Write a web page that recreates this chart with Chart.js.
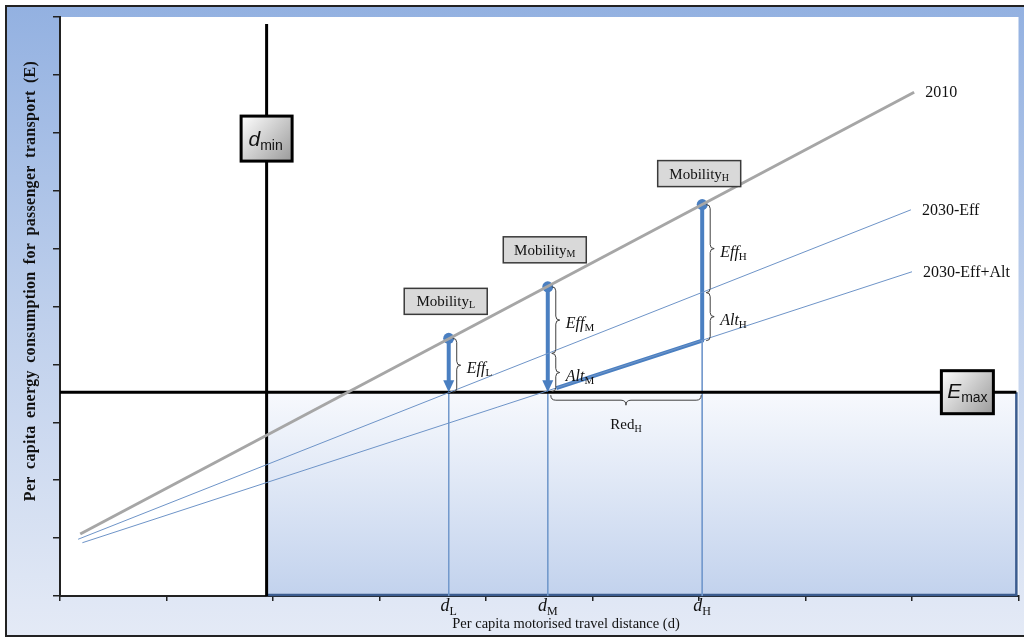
<!DOCTYPE html>
<html lang="en">
<head>
<meta charset="UTF-8">
<title>Mobility and passenger transport energy</title>
<script src="https://cdn.jsdelivr.net/npm/chart.js@4.4.1/dist/chart.umd.min.js"></script>
<style>
  body { margin: 0; background: #fff; }
</style>
</head>
<body>
<canvas id="chart" width="1024" height="637"></canvas>
<script>
// scenario lines, x = travel distance (d), y = energy (E)
const x2010 = [0.19, 8.02];
const y2010 = [1.07, 8.70];
const xEff = [0.17, 7.99];
const yEff = [0.98, 6.67];
const xAlt = [0.21, 8.00];
const yAlt = [0.92, 5.60];
const lineNames = ['2010', '2030-Eff', '2030-Eff+Alt'];

// limits
const eMax = 3.52;
const dMin = 1.94;
const dMinTop = 9.88;
const dRight = 8.98;

// mobility levels
const levels = ['L', 'M', 'H'];
const levelD = [3.65, 4.58, 6.03];
const levelE = [4.45, 5.34, 6.76];
const effE = [3.52, 4.19, 5.24];
const altE = [3.52, 3.53, 4.41];
const altEnd = [4.66, 3.59];

const xTicks = [0, 1, 2, 3, 4, 5, 6, 7, 8, 9];
const yTicks = [0, 1, 2, 3, 4, 5, 6, 7, 8, 9, 10];

const arrowGap = 0.17; // shaft stops where the arrow head starts
const blue = '#4a7fc1';
const serif = '"Liberation Serif", "Times New Roman", serif';
const sans = '"Liberation Sans", Arial, sans-serif';

function pts(xs, ys) { return xs.map((x, i) => ({ x: x, y: ys[i] })); }

function lineSet(data, color, width) {
  return { data: data, borderColor: color, borderWidth: width, pointRadius: 0, showLine: true, fill: false };
}

const datasets = [
  lineSet(pts(x2010, y2010), '#a6a6a6', 3),
  lineSet(pts(xEff, yEff), '#6e94c8', 1),
  lineSet(pts(xAlt, yAlt), '#6e94c8', 1),
  lineSet([{ x: 0, y: eMax }, { x: dRight, y: eMax }], '#000', 3),
  lineSet([{ x: dMin, y: 0 }, { x: dMin, y: dMinTop }], '#000', 3)
];
// drop lines to the x axis
levelD.forEach((d, i) => {
  datasets.push(lineSet([{ x: d, y: i === 2 ? altE[2] : eMax }, { x: d, y: 0 }], '#7399cc', 1));
});
// arrows
datasets.push(lineSet([{ x: levelD[0], y: levelE[0] }, { x: levelD[0], y: eMax + arrowGap }], blue, 4));
datasets.push(lineSet([{ x: levelD[1], y: levelE[1] }, { x: levelD[1], y: eMax + arrowGap }], blue, 4));
datasets.push(Object.assign(lineSet([
  { x: levelD[2], y: levelE[2] }, { x: levelD[2], y: altE[2] }, { x: altEnd[0], y: altEnd[1] }
], blue, 4), { borderJoinStyle: 'round' }));
// mobility points
datasets.push({ data: pts(levelD, levelE), showLine: false, pointRadius: 5.5, pointBackgroundColor: blue, pointBorderWidth: 0 });

function subText(ctx, x, y, main, sub, mainFont, subFont, drop, align) {
  ctx.font = mainFont; const w1 = ctx.measureText(main).width;
  ctx.font = subFont; const w2 = ctx.measureText(sub).width;
  const x0 = align === 'center' ? x - (w1 + w2) / 2 : x;
  ctx.textAlign = 'left';
  ctx.font = mainFont; ctx.fillText(main, x0, y);
  ctx.font = subFont; ctx.fillText(sub, x0 + w1, y + drop);
}

function vBrace(ctx, x, y1, y2, w) {
  const ym = (y1 + y2) / 2;
  ctx.beginPath();
  ctx.moveTo(x - w, y1);
  ctx.quadraticCurveTo(x, y1, x, y1 + w);
  ctx.lineTo(x, ym - w);
  ctx.quadraticCurveTo(x, ym, x + w, ym);
  ctx.quadraticCurveTo(x, ym, x, ym + w);
  ctx.lineTo(x, y2 - w);
  ctx.quadraticCurveTo(x, y2, x - w, y2);
  ctx.stroke();
}

function hBrace(ctx, y, x1, x2, w) {
  const xm = (x1 + x2) / 2;
  ctx.beginPath();
  ctx.moveTo(x1, y - w);
  ctx.quadraticCurveTo(x1, y, x1 + w, y);
  ctx.lineTo(xm - w, y);
  ctx.quadraticCurveTo(xm, y, xm, y + w);
  ctx.quadraticCurveTo(xm, y, xm + w, y);
  ctx.lineTo(x2 - w, y);
  ctx.quadraticCurveTo(x2, y, x2, y - w);
  ctx.stroke();
}

function greyBox(ctx, cx, cy, w, h) {
  const x = cx - w / 2, y = cy - h / 2;
  const g = ctx.createLinearGradient(x, y, x + w, y + h);
  g.addColorStop(0, '#ffffff');
  g.addColorStop(1, '#9a9a9a');
  ctx.fillStyle = g;
  ctx.fillRect(x, y, w, h);
  ctx.lineWidth = 3;
  ctx.strokeStyle = '#000';
  ctx.strokeRect(x, y, w, h);
}

const diagram = {
  id: 'diagram',
  beforeDraw(chart) {
    const ctx = chart.ctx, a = chart.chartArea;
    ctx.save();
    ctx.fillStyle = '#fff';
    ctx.fillRect(0, 0, chart.width, chart.height);
    const bg = ctx.createLinearGradient(0, 6, 0, 636);
    bg.addColorStop(0, '#93b1e1');
    bg.addColorStop(0.5, '#bfd0ec');
    bg.addColorStop(1, '#e4eaf6');
    ctx.fillStyle = bg;
    ctx.fillRect(6, 6, chart.width - 6, 630);
    ctx.fillStyle = '#fff';
    ctx.fillRect(a.left, a.top, a.right - a.left, a.bottom - a.top);
    ctx.restore();
  },
  beforeDatasetsDraw(chart) {
    const ctx = chart.ctx, xs = chart.scales.x, ys = chart.scales.y;
    const l = xs.getPixelForValue(dMin), r = xs.getPixelForValue(dRight);
    const t = ys.getPixelForValue(eMax), b = ys.getPixelForValue(0);
    ctx.save();
    const g = ctx.createLinearGradient(0, t, 0, b);
    g.addColorStop(0, '#f7f9fd');
    g.addColorStop(1, '#c2d2ed');
    ctx.fillStyle = g;
    ctx.fillRect(l, t, r - l, b - t);
    ctx.strokeStyle = '#3b5c8f';
    ctx.lineWidth = 2.5;
    ctx.beginPath();
    ctx.moveTo(l, b - 1);
    ctx.lineTo(r, b - 1);
    ctx.lineTo(r, t);
    ctx.stroke();
    ctx.restore();
  },
  afterDatasetsDraw(chart) {
    const ctx = chart.ctx, xs = chart.scales.x, ys = chart.scales.y;
    const px = v => xs.getPixelForValue(v), py = v => ys.getPixelForValue(v);
    ctx.save();

    // arrow heads
    ctx.fillStyle = blue;
    [0, 1].forEach(i => {
      const x = px(levelD[i]), y = py(eMax);
      ctx.beginPath();
      ctx.moveTo(x - 5.5, y - 12);
      ctx.lineTo(x + 5.5, y - 12);
      ctx.lineTo(x, y);
      ctx.closePath();
      ctx.fill();
    });

    // braces
    ctx.strokeStyle = '#404040';
    ctx.lineWidth = 1;
    const braces = [
      [0, levelE[0], effE[0], 'Eff', 'L'],
      [1, levelE[1], effE[1], 'Eff', 'M'],
      [1, effE[1], altE[1], 'Alt', 'M'],
      [2, levelE[2], effE[2], 'Eff', 'H'],
      [2, effE[2], altE[2], 'Alt', 'H']
    ];
    ctx.fillStyle = '#111';
    braces.forEach(b => {
      const x = px(levelD[b[0]]) + 8, y1 = py(b[1]), y2 = py(b[2]);
      vBrace(ctx, x, y1, y2, 4);
      subText(ctx, x + 10, (y1 + y2) / 2 + 8, b[3], b[4],
        'italic 16px ' + serif, '11px ' + serif, 3, 'left');
    });
    const rx1 = px(levelD[1]) + 3, rx2 = px(levelD[2]) - 1, ry = py(eMax) + 8;
    hBrace(ctx, ry, rx1, rx2, 5);
    subText(ctx, (rx1 + rx2) / 2, ry + 29, 'Red', 'H', '15px ' + serif, '10px ' + serif, 3, 'center');

    // line labels
    ctx.font = '16px ' + serif;
    ctx.textAlign = 'left';
    ctx.textBaseline = 'middle';
    [[x2010, y2010], [xEff, yEff], [xAlt, yAlt]].forEach((s, i) => {
      ctx.fillText(lineNames[i], px(s[0][1]) + 11, py(s[1][1]) + 1);
    });
    ctx.textBaseline = 'alphabetic';

    // mobility boxes
    const lift = [24, 24, 18];
    levels.forEach((lv, i) => {
      const cx = px(levelD[i]) - 3, bottom = py(levelE[i]) - lift[i];
      const w = 83, h = 26;
      ctx.fillStyle = '#d9d9d9';
      ctx.fillRect(cx - w / 2, bottom - h, w, h);
      ctx.strokeStyle = '#3a3a3a';
      ctx.lineWidth = 1.5;
      ctx.strokeRect(cx - w / 2, bottom - h, w, h);
      ctx.fillStyle = '#111';
      subText(ctx, cx, bottom - 8, 'Mobility', lv, '15px ' + serif, '10px ' + serif, 2, 'center');
    });

    // d_min and E_max boxes
    const dx = px(dMin), dy = py(7.90);
    greyBox(ctx, dx, dy, 51, 45);
    ctx.fillStyle = '#111';
    subText(ctx, dx - 1, dy + 7, 'd', 'min', 'italic 21px ' + sans, '14px ' + sans, 4, 'center');
    const ex = px(8.52), ey = py(eMax);
    greyBox(ctx, ex, ey, 52, 43);
    ctx.fillStyle = '#111';
    subText(ctx, ex, ey + 6, 'E', 'max', 'italic 21px ' + sans, '14px ' + sans, 4, 'center');

    ctx.restore();
  },
  afterDraw(chart) {
    const ctx = chart.ctx, xs = chart.scales.x;
    ctx.save();
    ctx.fillStyle = '#111';
    levels.forEach((lv, i) => {
      subText(ctx, xs.getPixelForValue(levelD[i]), 611, 'd', lv, 'italic 18px ' + serif, '12px ' + serif, 4, 'center');
    });
    ctx.font = '14.5px ' + serif;
    ctx.textAlign = 'center';
    ctx.fillText('Per capita motorised travel distance (d)', 566, 628);
    ctx.translate(35, 281);
    ctx.rotate(-Math.PI / 2);
    ctx.font = 'bold 16px ' + serif;
    ctx.letterSpacing = '0.3px';
    ctx.wordSpacing = '3px';
    ctx.fillText('Per capita energy consumption for passenger transport (E)', 0, 0);
    ctx.restore();
    ctx.save();
    ctx.strokeStyle = '#222';
    ctx.lineWidth = 2;
    ctx.beginPath();
    ctx.moveTo(1024, 6);
    ctx.lineTo(6, 6);
    ctx.lineTo(6, 636);
    ctx.lineTo(1024, 636);
    ctx.stroke();
    ctx.restore();
  }
};

new Chart(document.getElementById('chart'), {
  type: 'scatter',
  data: { datasets: datasets },
  options: {
    responsive: false,
    animation: false,
    layout: { padding: { left: 53, right: 4, top: 17, bottom: 36 } },
    plugins: { legend: { display: false }, tooltip: { enabled: false } },
    scales: {
      x: {
        type: 'linear', min: 0, max: 9,
        afterBuildTicks: s => { s.ticks = xTicks.map(v => ({ value: v })); },
        ticks: { display: false },
        grid: { drawOnChartArea: false, drawTicks: true, tickLength: 5, color: '#222', lineWidth: 1.5 },
        border: { display: true, color: '#222', width: 2 }
      },
      y: {
        type: 'linear', min: 0, max: 10,
        afterBuildTicks: s => { s.ticks = yTicks.map(v => ({ value: v })); },
        ticks: { display: false },
        grid: { drawOnChartArea: false, drawTicks: true, tickLength: 7, color: '#222', lineWidth: 1.5 },
        border: { display: true, color: '#222', width: 2 }
      }
    }
  },
  plugins: [diagram]
});
</script>
</body>
</html>
